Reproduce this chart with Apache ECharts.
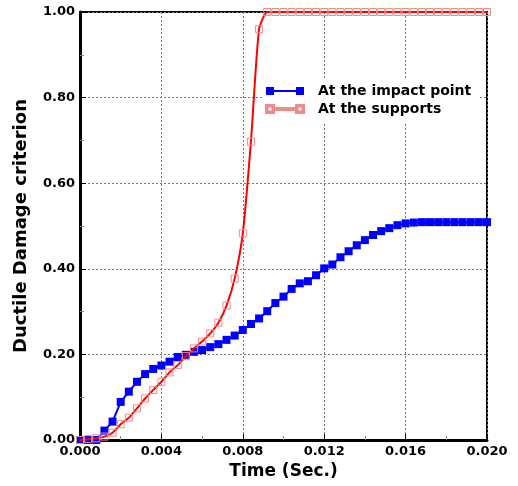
<!DOCTYPE html>
<html>
<head>
<meta charset="utf-8">
<script src="https://cdn.jsdelivr.net/npm/echarts@6/dist/echarts.min.js"></script>
<style>html,body{margin:0;padding:0;background:#fff;}#c{width:518px;height:486px;}</style>
</head>
<body>
<div id="c"></div>
<script>
const times = [0.0000,0.0004,0.0008,0.0012,0.0016,0.0020,0.0024,0.0028,0.0032,0.0036,
  0.0040,0.0044,0.0048,0.0052,0.0056,0.0060,0.0064,0.0068,0.0072,0.0076,
  0.0080,0.0084,0.0088,0.0092,0.0096,0.0100,0.0104,0.0108,0.0112,0.0116,
  0.0120,0.0124,0.0128,0.0132,0.0136,0.0140,0.0144,0.0148,0.0152,0.0156,
  0.0160,0.0164,0.0168,0.0172,0.0176,0.0180,0.0184,0.0188,0.0192,0.0196,0.0200];
const impactPoint = [0.000,0.000,0.000,0.022,0.043,0.089,0.113,0.136,0.154,0.166,
  0.174,0.183,0.194,0.199,0.206,0.210,0.217,0.224,0.234,0.244,
  0.257,0.271,0.284,0.301,0.320,0.335,0.353,0.366,0.371,0.385,
  0.401,0.410,0.427,0.441,0.455,0.467,0.479,0.488,0.495,0.502,
  0.506,0.508,0.509,0.509,0.509,0.509,0.509,0.509,0.509,0.509,0.509];
const supports = [0.000,0.002,0.004,0.008,0.017,0.037,0.052,0.074,0.097,0.117,
  0.136,0.158,0.175,0.196,0.214,0.230,0.249,0.274,0.314,0.377,
  0.483,0.697,0.960,1.000,1.000,1.000,1.000,1.000,1.000,1.000,
  1.000,1.000,1.000,1.000,1.000,1.000,1.000,1.000,1.000,1.000,
  1.000,1.000,1.000,1.000,1.000,1.000,1.000,1.000,1.000,1.000,1.000];
const xTicks = ['0.000','0.004','0.008','0.012','0.016','0.020'];
const yTicks = ['0.00','0.20','0.40','0.60','0.80','1.00'];
const seriesNames = ['At the impact point','At the supports'];

const pair = (vals) => times.map((t, i) => [t, vals[i]]);
const font = 'DejaVu Sans';
const chart = echarts.init(document.getElementById('c'));
chart.setOption({
  animation: false,
  backgroundColor: '#fff',
  grid: {left: 80, right: 31, top: 12, bottom: 46, show: true, borderColor: '#000', borderWidth: 2, backgroundColor: 'transparent'},
  legend: {
    orient: 'vertical', left: 262, top: 79,
    backgroundColor: '#fff', padding: [5, 8, 6, 3], itemGap: 4,
    itemWidth: 38, itemHeight: 8,
    textStyle: {fontFamily: font, fontWeight: 'bold', fontSize: 14, color: '#000', padding: [0, 0, 0, 9]},
    data: [
      {name: seriesNames[0], icon: 'path://M0,0h8v8h-8Z M8,3h22v2h-22Z M30,0h8v8h-8Z', itemStyle: {color: '#0000ff'}},
      {name: seriesNames[1], icon: 'path://M0,0h8v8h-8Z M1.5,1.5v5h5v-5Z M8,3h22v2h-22Z M30,0h8v8h-8Z M31.5,1.5v5h5v-5Z', itemStyle: {color: '#f23a3a'}}
    ]
  },
  xAxis: {
    type: 'value', min: 0, max: 0.02, interval: 0.004,
    name: 'Time (Sec.)', nameLocation: 'middle', nameGap: 23,
    nameTextStyle: {fontFamily: font, fontWeight: 'bold', fontSize: 17, color: '#000'},
    axisLine: {show: true, lineStyle: {color: '#000', width: 3}},
    axisTick: {show: true, inside: true, length: 6, lineStyle: {color: '#000', width: 1}},
    minorTick: {show: true, splitNumber: 2, length: 4, lineStyle: {color: '#888'}},
    splitLine: {show: true, lineStyle: {color: '#777', type: [2, 2], width: 1}},
    axisLabel: {fontFamily: font, fontWeight: 'bold', fontSize: 13, color: '#000', margin: 5,
      formatter: (v) => xTicks[Math.round(v / 0.004)]}
  },
  yAxis: {
    type: 'value', min: 0, max: 1, interval: 0.2,
    name: 'Ductile Damage criterion', nameLocation: 'middle', nameGap: 50,
    nameTextStyle: {fontFamily: font, fontWeight: 'bold', fontSize: 18, color: '#000'},
    axisLine: {show: true, lineStyle: {color: '#000', width: 3}},
    axisTick: {show: true, inside: true, length: 6, lineStyle: {color: '#000', width: 1}},
    minorTick: {show: true, splitNumber: 2, length: 4, lineStyle: {color: '#888'}},
    splitLine: {show: true, lineStyle: {color: '#777', type: [2, 2], width: 1}},
    axisLabel: {fontFamily: font, fontWeight: 'bold', fontSize: 13, color: '#000', margin: 5,
      formatter: (v) => yTicks[Math.round(v / 0.2)]}
  },
  series: [
    {
      name: seriesNames[0], type: 'line', data: pair(impactPoint), clip: false,
      symbol: 'rect', symbolSize: 8, smooth: false,
      lineStyle: {color: '#0000ff', width: 2},
      itemStyle: {color: '#0000ff', borderWidth: 0}, z: 3
    },
    {
      name: seriesNames[1], type: 'line', data: pair(supports), clip: false,
      symbol: 'rect', symbolSize: 7, smooth: 0.2,
      lineStyle: {color: '#ff0000', width: 2},
      itemStyle: {color: 'rgba(255,255,255,0)', borderColor: '#f08a8a', borderWidth: 1}, z: 4
    }
  ]
});
</script>
</body>
</html>
